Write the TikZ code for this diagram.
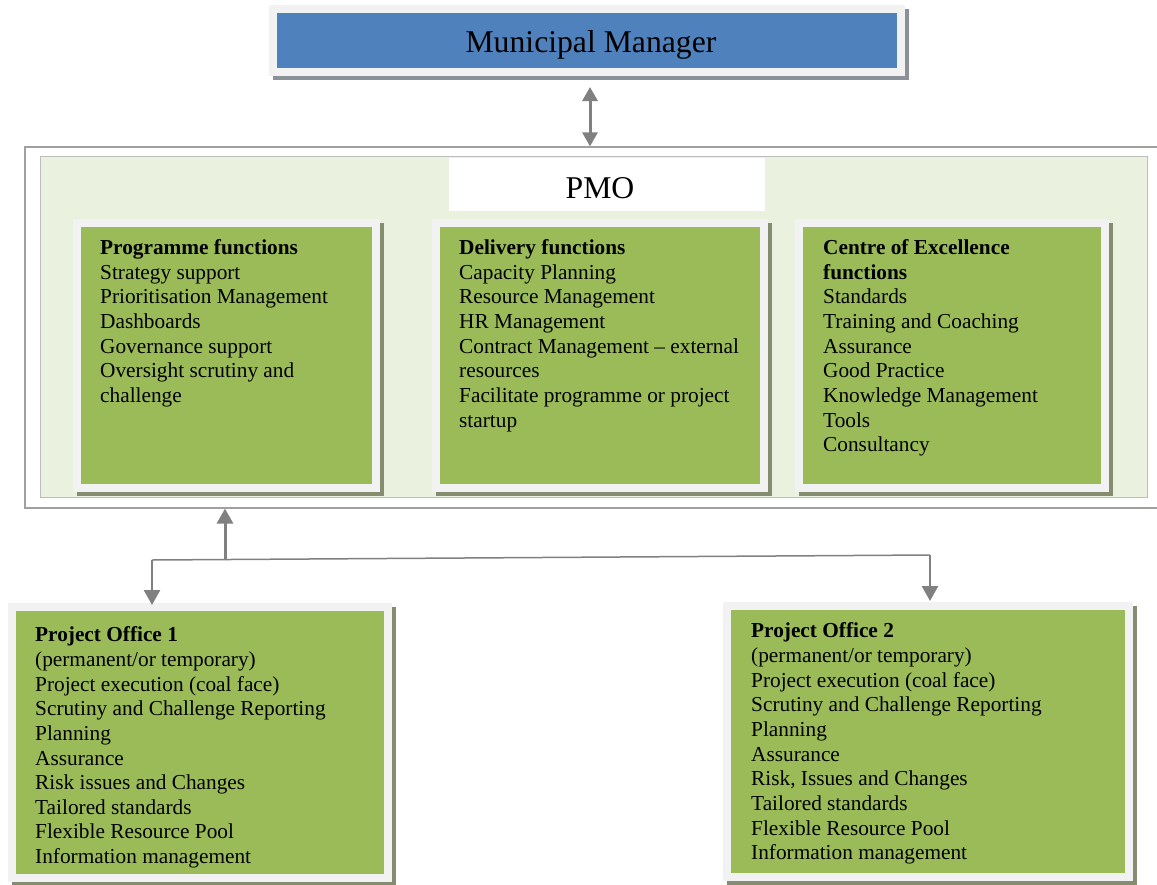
\documentclass[tikz,border=0pt]{standalone}
\usepackage{fontspec}
\setmainfont{Liberation Serif}
\usetikzlibrary{arrows.meta,shadows}

\definecolor{mmblue}{HTML}{4F81BD}
\definecolor{boxgreen}{HTML}{9BBB59}
\definecolor{panelgreen}{HTML}{EAF1DE}
\definecolor{framegray}{HTML}{F2F2F2}
\definecolor{shadeblue}{HTML}{8C9098}
\definecolor{shadegreen}{HTML}{868C70}
\definecolor{bordergray}{HTML}{A0A0A0}
\definecolor{linkgray}{HTML}{808080}

\tikzset{
  framed/.style={rectangle, draw=framegray, line width=8pt, inner sep=0pt, outer sep=0pt},
  mmbox/.style={framed, fill=mmblue,
    general shadow={draw=shadeblue, fill=shadeblue, line width=8pt, shadow xshift=4pt, shadow yshift=-4pt}},
  funcbox/.style={framed, fill=boxgreen,
    general shadow={draw=shadegreen, fill=shadegreen, line width=8pt, shadow xshift=4pt, shadow yshift=-4pt}},
  bodytext/.style={anchor=north west, inner sep=0pt, align=left,
    font=\fontsize{21.3}{24.65}\selectfont},
  titletext/.style={anchor=base, inner sep=0pt, font=\fontsize{31.7}{36}\selectfont},
  link/.style={draw=linkgray, line width=1.5pt},
  linkarrow/.style={draw=linkgray, line width=3pt, -{Triangle[length=15pt,width=16pt]}},
  linkboth/.style={draw=linkgray, line width=3pt,
    {Triangle[length=14pt,width=15pt]}-{Triangle[length=14pt,width=15pt]}}
}

\begin{document}
\begin{tikzpicture}[x=1pt, y=-1pt]
\useasboundingbox (0,0) rectangle (1157,884);
\clip (0,0) rectangle (1157,884);

% top box
\node[mmbox, minimum width=628pt, minimum height=63pt] (mm) at (587,40.5) {};
\node[titletext] (mmtext) at (591,52) {Municipal Manager};

% PMO panel
\node[rectangle, draw=bordergray, line width=1.2pt, minimum width=1145pt, minimum height=361pt,
      inner sep=0pt] (pmo) at (597.5,327.5) {};
\node[rectangle, fill=panelgreen, draw=bordergray!70, line width=0.6pt, minimum width=1107.5pt,
      minimum height=341pt, inner sep=0pt] (pmoin) at (593.75,327) {};
\node[rectangle, fill=white, minimum width=316pt, minimum height=53pt, inner sep=0pt]
      (pmolabel) at (607,184.5) {};
\node[titletext] (pmotext) at (600,198) {PMO};

% function boxes
\node[funcbox, minimum width=299pt, minimum height=265pt] (prog) at (226.5,355.5) {};
\node[funcbox, minimum width=328pt, minimum height=265pt] (deliv) at (600,355.5) {};
\node[funcbox, minimum width=306pt, minimum height=265pt] (coe) at (952,355.5) {};

\node[bodytext] (progtext) at (100,237) {\strut\textbf{Programme functions}\\
  Strategy support\\ Prioritisation Management\\ Dashboards\\ Governance support\\
  Oversight scrutiny and\\ challenge};
\node[bodytext] (delivtext) at (459,237) {\strut\textbf{Delivery functions}\\
  Capacity Planning\\ Resource Management\\ HR Management\\
  Contract Management – external\\ resources\\ Facilitate programme or project\\ startup};
\node[bodytext] (coetext) at (823,237) {\strut\textbf{Centre of Excellence}\\
  \textbf{functions}\\ Standards\\ Training and Coaching\\ Assurance\\ Good Practice\\
  Knowledge Management\\ Tools\\ Consultancy};

% project offices
\node[funcbox, minimum width=376pt, minimum height=271pt] (po1) at (200,742.5) {};
\node[funcbox, minimum width=402pt, minimum height=271pt] (po2) at (928,741.5) {};

\node[bodytext] (po1text) at (35,624.3) {\strut\textbf{Project Office 1}\\
  (permanent/or temporary)\\ Project execution (coal face)\\
  Scrutiny and Challenge Reporting\\ Planning\\ Assurance\\ Risk issues and Changes\\
  Tailored standards\\ Flexible Resource Pool\\ Information management};
\node[bodytext] (po2text) at (751,620.5) {\strut\textbf{Project Office 2}\\
  (permanent/or temporary)\\ Project execution (coal face)\\
  Scrutiny and Challenge Reporting\\ Planning\\ Assurance\\ Risk, Issues and Changes\\
  Tailored standards\\ Flexible Resource Pool\\ Information management};

% connectors
\coordinate (mmx) at (590,0);
\coordinate (ja) at (152,560);
\coordinate (jb) at (930,555);
\coordinate (jm) at (225,559.5);

\draw[linkboth, shorten <=15pt] (mm.south -| mmx) -- (pmo.north -| mmx);
\draw[link] (ja) -- (jb);
\draw[linkarrow] (jm) -- (pmo.south -| jm);
\draw[linkarrow, line width=2.5pt, shorten >=2pt] (ja) -- (po1.north -| ja);
\draw[linkarrow, line width=2.5pt, shorten >=5pt] (jb) -- (po2.north -| jb);
\end{tikzpicture}
\end{document}
